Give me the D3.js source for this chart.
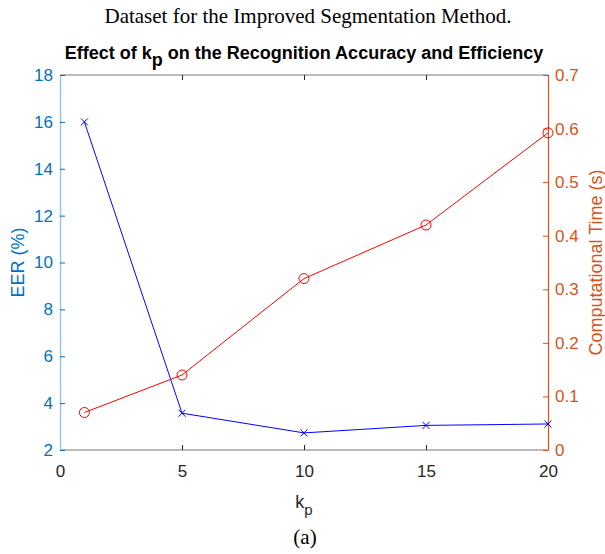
<!DOCTYPE html>
<html>
<head>
<meta charset="utf-8">
<script src="https://cdn.jsdelivr.net/npm/d3@7"></script>
<style>
  body { margin: 0; background: #fff; }
  svg { display: block; }
</style>
</head>
<body>
<div id="chart"></div>
<script>
// values
var kp = [1, 5, 10, 15, 20];
var eer = [16.0, 3.57, 2.73, 3.05, 3.11];
var compTime = [0.07, 0.14, 0.32, 0.42, 0.592];
var xTicks = [0, 5, 10, 15, 20];
var eerTicks = [2, 4, 6, 8, 10, 12, 14, 16, 18];
var timeTicks = [0, 0.1, 0.2, 0.3, 0.4, 0.5, 0.6, 0.7];

var W = 605, H = 554;
var margin = { top: 75, right: 57, bottom: 104, left: 60 };
var width = W - margin.left - margin.right,
  height = H - margin.top - margin.bottom;

var blueAx = '#0072BD', orangeAx = '#D95319';
var sans = 'Liberation Sans, Arial, Helvetica, sans-serif';
var serif = 'Liberation Serif, Times New Roman, serif';

var svg = d3.select('#chart').append('svg')
  .attr('width', W).attr('height', H);

// caption text above and below
svg.append('text')
  .attr('x', 308).attr('y', 23)
  .attr('text-anchor', 'middle')
  .style('font-family', serif)
  .style('font-size', '21px')
  .text('Dataset for the Improved Segmentation Method.');

svg.append('text')
  .attr('x', 305).attr('y', 544)
  .attr('text-anchor', 'middle')
  .style('font-family', serif)
  .style('font-size', '21px')
  .text('(a)');

var g = svg.append('g')
  .attr('transform', 'translate(' + margin.left + ',' + margin.top + ')');

var x = d3.scaleLinear().domain([0, 20]).range([0, width]);
var yL = d3.scaleLinear().domain([2, 18]).range([height, 0]);
var yR = d3.scaleLinear().domain([0, 0.7]).range([height, 0]);

// box: top and bottom in gray
g.append('line').attr('x1', 0).attr('x2', width).attr('y1', 0).attr('y2', 0)
  .attr('stroke', '#a6a6a6').attr('stroke-width', 1.5);
g.append('line').attr('x1', 0).attr('x2', width).attr('y1', height).attr('y2', height)
  .attr('stroke', '#a6a6a6').attr('stroke-width', 1.5);

// x ticks (bottom and top, inward)
var xb = g.append('g').attr('transform', 'translate(0,' + height + ')')
  .call(d3.axisBottom(x).tickValues(xTicks).tickSizeInner(-5).tickSizeOuter(0).tickPadding(15));
xb.select('.domain').remove();
xb.selectAll('line').attr('stroke', '#262626');
xb.selectAll('text').style('font-family', sans).style('font-size', '17px').attr('fill', '#262626');

var xt = g.append('g')
  .call(d3.axisTop(x).tickValues(xTicks).tickSizeInner(-5).tickSizeOuter(0).tickFormat(''));
xt.select('.domain').remove();
xt.selectAll('line').attr('stroke', '#262626');

// left axis
var yl = g.append('g')
  .call(d3.axisLeft(yL).tickValues(eerTicks).tickSizeInner(-5).tickSizeOuter(0).tickPadding(7));
yl.select('.domain').attr('stroke', '#99c7e8').attr('stroke-width', 1.5);
yl.selectAll('line').attr('stroke', blueAx);
yl.selectAll('text').style('font-family', sans).style('font-size', '17px').attr('fill', blueAx);

// right axis
var yr = g.append('g').attr('transform', 'translate(' + width + ',0)')
  .call(d3.axisRight(yR).tickValues(timeTicks).tickSizeInner(-5).tickSizeOuter(0).tickPadding(7)
    .tickFormat(function (d) { return d === 0 ? '0' : d3.format('.1f')(d); }));
yr.select('.domain').attr('stroke', orangeAx).attr('stroke-width', 1.2);
yr.selectAll('line').attr('stroke', orangeAx);
yr.selectAll('text').style('font-family', sans).style('font-size', '17px').attr('fill', orangeAx);

// axis labels
var xl = g.append('text')
  .attr('x', width / 2).attr('y', height + 58)
  .attr('text-anchor', 'middle')
  .style('font-family', sans).style('font-size', '18px').attr('fill', '#262626');
xl.append('tspan').text('k');
xl.append('tspan').attr('dy', 7).style('font-size', '15px').text('p');

g.append('text')
  .attr('transform', 'translate(-36,' + height / 2 + ') rotate(-90)')
  .attr('text-anchor', 'middle')
  .style('font-family', sans).style('font-size', '18px').attr('fill', blueAx)
  .text('EER (%)');

g.append('text')
  .attr('transform', 'translate(' + (width + 54) + ',' + height / 2 + ') rotate(-90)')
  .attr('text-anchor', 'middle')
  .style('font-family', sans).style('font-size', '18px').attr('fill', orangeAx)
  .text('Computational Time (s)');

// title
var t = g.append('text')
  .attr('x', width / 2).attr('y', -16)
  .attr('text-anchor', 'middle')
  .style('font-family', sans).style('font-size', '18px').style('font-weight', 'bold')
  .attr('fill', '#000');
t.append('tspan').text('Effect of k');
t.append('tspan').attr('dy', 7).text('p');
t.append('tspan').attr('dy', -7).text(' on the Recognition Accuracy and Efficiency');

// EER series (blue, x markers)
var lineL = d3.line().x(function (d, i) { return x(kp[i]); }).y(function (d) { return yL(d); });
g.append('path').datum(eer)
  .attr('d', lineL).attr('fill', 'none').attr('stroke', '#0000ff').attr('stroke-width', 1);
g.selectAll('path.xm').data(eer).enter().append('path')
  .attr('class', 'xm')
  .attr('transform', function (d, i) { return 'translate(' + x(kp[i]) + ',' + yL(d) + ')'; })
  .attr('d', 'M-3.5,-3.5L3.5,3.5M-3.5,3.5L3.5,-3.5')
  .attr('stroke', '#0000ff').attr('stroke-width', 1);

// time series (red, circle markers)
var lineR = d3.line().x(function (d, i) { return x(kp[i]); }).y(function (d) { return yR(d); });
g.append('path').datum(compTime)
  .attr('d', lineR).attr('fill', 'none').attr('stroke', '#ff0000').attr('stroke-width', 1);
g.selectAll('circle.om').data(compTime).enter().append('circle')
  .attr('class', 'om')
  .attr('cx', function (d, i) { return x(kp[i]); })
  .attr('cy', function (d) { return yR(d); })
  .attr('r', 5)
  .attr('fill', 'none').attr('stroke', '#ff0000').attr('stroke-width', 1);
</script>
</body>
</html>
